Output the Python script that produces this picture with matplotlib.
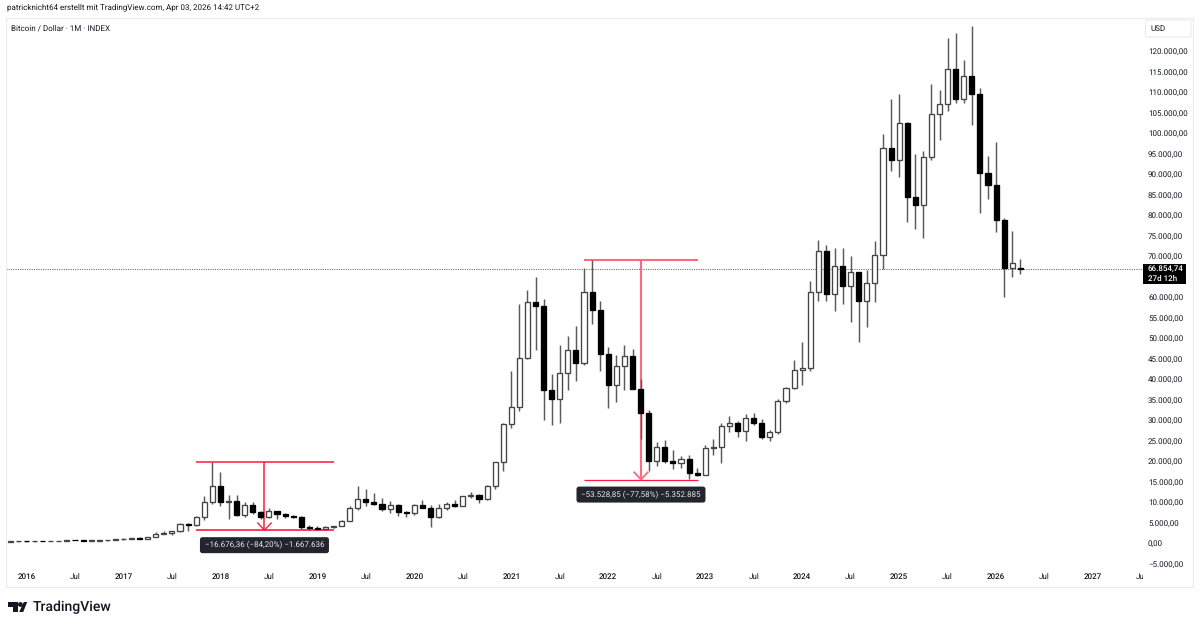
import matplotlib
matplotlib.use("Agg")
import matplotlib.pyplot as plt
from matplotlib.patches import Rectangle, FancyBboxPatch, Polygon, Circle
from matplotlib.transforms import Bbox, IdentityTransform

plt.rcParams['font.family'] = ['Roboto', 'DejaVu Sans']
plt.rcParams['text.hinting'] = 'no_hinting'
plt.rcParams['text.hinting_factor'] = 1

# Monthly candles, Nov 2015 to Apr 2026: first month index is -2 (Jan 2016 = 0)
first_month = -2
opens = [320, 378, 430, 370, 437, 416, 448, 530, 673, 624, 575, 609, 700, 745,
         963, 970, 1190, 1080, 1350, 2300, 2480, 2870, 4700, 4340, 6450, 9900,
         14000, 10100, 10300, 6900, 9240, 7480, 6390, 7730, 7010, 6620, 6300, 4000,
         3700, 3430, 3800, 4100, 5300, 8550, 10800, 10100, 9600, 8300, 9150, 7550,
         7200, 9350, 8550, 6420, 8630, 9450, 9140, 11350, 11650, 10780, 13800, 19700,
         29000, 33100, 45200, 58800, 57700, 37300, 35050, 41500, 47100, 43800, 61300, 56900,
         46200, 38500, 43200, 45500, 37650, 31800, 19950, 23300, 20000, 19400, 20500, 17150,
         16550, 23130, 23500, 28470, 29250, 27200, 30480, 29230, 25940, 26970, 34660, 37720,
         42270, 42580, 61150, 71300, 60650, 67500, 62700, 66000, 58950, 63300, 70300, 96400,
         93400, 102400, 84300, 82500, 94200, 104600, 107100, 115700, 108300, 114000, 109500, 90300,
         87300, 78700, 67000, 66950]
highs = [380, 465, 435, 440, 445, 470, 460, 780, 770, 680, 620, 660, 730, 780,
         1150, 1230, 1350, 1400, 2760, 2980, 2900, 4980, 4980, 6470, 11500, 19700,
         17200, 11800, 11700, 9900, 10000, 7760, 8490, 7500, 7400, 6750, 6500, 4400,
         4070, 4200, 4100, 5600, 9050, 13800, 13200, 12300, 10900, 10350, 9500, 7750,
         9600, 10500, 9200, 9450, 10080, 10400, 11450, 12480, 12070, 14100, 19850, 29300,
         41950, 58350, 61800, 64900, 59600, 41300, 48200, 50500, 52900, 67000, 69000, 59100,
         47900, 45800, 48200, 47400, 40000, 32400, 24700, 25200, 22800, 21100, 21500, 18400,
         23900, 25250, 29200, 31000, 29800, 31400, 31800, 30200, 27500, 35200, 38000, 44700,
         48950, 64000, 73800, 72700, 71900, 71900, 70000, 65600, 66500, 73600, 99800, 108300,
         109500, 102700, 95000, 95700, 111900, 110500, 123100, 124400, 117900, 126200, 111000, 94400,
         97900, 79300, 76000, 69200]
lows = [310, 350, 350, 360, 425, 400, 445, 525, 630, 480, 560, 590, 600, 720,
        750, 930, 890, 1300, 1800, 2100, 1830, 2650, 2970, 4100, 5500, 9500,
        9000, 5900, 6500, 6400, 7000, 5750, 6060, 5900, 6100, 6200, 3500, 3100,
        3350, 3400, 3600, 4100, 5350, 8000, 9100, 9300, 7700, 7300, 6500, 6400,
        6850, 8450, 3850, 6150, 8100, 8900, 8950, 11000, 9850, 10400, 13200, 17600,
        28100, 32300, 44950, 47000, 30000, 28800, 29300, 37300, 39600, 43300, 53300, 41900,
        32900, 34300, 37200, 37600, 25400, 17600, 18800, 19600, 18100, 18200, 15500, 16300,
        16500, 21400, 19600, 27000, 25800, 24800, 28900, 25300, 24900, 26600, 34100, 37600,
        38500, 41900, 59100, 59100, 56500, 58400, 53900, 49000, 52600, 58900, 66800, 90700,
        89200, 78200, 76600, 74500, 93400, 98200, 105300, 107300, 107300, 102000, 80600, 84000,
        75800, 60000, 64800, 65700]
closes = [378, 430, 370, 437, 416, 448, 530, 673, 624, 575, 609, 700, 745, 963,
          970, 1190, 1080, 1350, 2300, 2480, 2870, 4700, 4340, 6450, 9900, 14000,
          10100, 10300, 6900, 9240, 7480, 6390, 7730, 7010, 6620, 6300, 4000, 3700,
          3430, 3800, 4100, 5300, 8550, 10800, 10100, 9600, 8300, 9150, 7550, 7200,
          9350, 8550, 6420, 8630, 9450, 9140, 11350, 11650, 10780, 13800, 19700, 29000,
          33100, 45200, 58800, 57700, 37300, 35050, 41500, 47100, 43800, 61300, 56900, 46200,
          38500, 43200, 45500, 37650, 31800, 19950, 23300, 20000, 19400, 20500, 17150, 16550,
          23130, 23500, 28470, 29250, 27200, 30480, 29230, 25940, 26970, 34660, 37720, 42270,
          42580, 61150, 71300, 60650, 67500, 62700, 66000, 58950, 63300, 70300, 96400, 93400,
          102400, 84300, 82500, 94200, 104600, 107100, 115700, 108300, 114000, 109500, 90300, 87300,
          78700, 67000, 68300, 66854.74]
assert len(opens) == len(highs) == len(lows) == len(closes)

# Price axis
price_ticks = [-5000, 0, 5000, 10000, 15000, 20000, 25000, 30000, 35000, 40000, 45000,
               50000, 55000, 60000, 70000, 75000, 80000, 85000, 90000, 95000,
               100000, 105000, 110000, 115000, 120000]

# Time axis
time_ticks = [0, 6, 12, 18, 24, 30, 36, 42, 48, 54, 60, 66, 72, 78, 84, 90, 96, 102,
              108, 114, 120, 126, 132, 138]
time_labels = ['2016', 'Jul', '2017', 'Jul', '2018', 'Jul', '2019', 'Jul', '2020', 'Jul',
               '2021', 'Jul', '2022', 'Jul', '2023', 'Jul', '2024', 'Jul', '2025', 'Jul',
               '2026', 'Jul', '2027', 'Jul']

# Drawdown measurements
caption_a = '\u221216.676,36 (\u221284,20%) \u22121.667.636'
caption_b = '\u221253.528,85 (\u221277,58%) \u22125.352.885'
top_a, bottom_a = 19805, 3129
top_b, bottom_b = 68998, 15469
span_a = (21.0, 38.05, 29.45)
span_b = (69.0, 83.1, 76.05)

last_price = 66854.74
W, H = 1200, 627
RED = '#ff1a40'
PINK = '#fb6b7f'
INK = '#131722'

fig = plt.figure(figsize=(W / 100, H / 100), dpi=100, facecolor='white')

# The plot area spans x 6..1143 and y 18..568 measured from the top-left
L, R, T, B = 6, 1143, 18, 568
ax = fig.add_axes([L / W, 1 - B / H, (R - L) / W, (B - T) / H])
px_per_month = 8.08
x0 = 26.5
ax.set_xlim((L - x0) / px_per_month, (R - x0) / px_per_month)
px_per_usd = 4.1 / 1000
y0 = 543
ax.set_ylim((y0 - B) / px_per_usd, (y0 - T) / px_per_usd)
for s in ax.spines.values():
    s.set_visible(False)

# Candles
body_w = 0.63
for i, (o, h, l, c) in enumerate(zip(opens, highs, lows, closes)):
    x = first_month + i
    up = c >= o
    ax.plot([x, x], [l, h], color='#5a5a5a', lw=1.05, solid_capstyle='butt', zorder=2)
    lo, hi = min(o, c), max(o, c)
    ax.add_patch(Rectangle((x - body_w / 2, lo), body_w, max(hi - lo, 120),
                           facecolor='white' if up else 'black',
                           edgecolor='#444444' if up else 'black', lw=0.95, zorder=3))

# Last-price line
ax.axhline(last_price, color='#666666', lw=0.75, ls=(0, (1, 1.2)), zorder=1)

# Drawdown brackets sit under the candles
def bracket(span, top, bottom, caption, top_color, top_lw, stem_color, stem_lw, bottom_lw):
    x_a, x_b, x_m = span
    ax.plot([x_a, x_b], [top, top], color=top_color, lw=top_lw, zorder=1.5, solid_capstyle='butt')
    ax.plot([x_a, x_b], [bottom, bottom], color=RED, lw=bottom_lw, zorder=1.5, solid_capstyle='butt')
    ax.plot([x_m, x_m], [top, bottom], color=stem_color, lw=stem_lw, zorder=1.5, solid_capstyle='butt')
    ax.plot([x_m - 0.83, x_m, x_m + 0.83], [bottom + 1750, bottom, bottom + 1750],
            color=stem_color, lw=stem_lw * 0.9, zorder=1.5)
    # Caption pill sits a fixed pixel distance below the bracket
    cx, cy = ax.transData.transform((x_m, bottom))
    cy -= 15
    ax.add_patch(FancyBboxPatch((cx - 62.5, cy - 6), 125, 12, transform=IdentityTransform(),
                                boxstyle='round,pad=2,rounding_size=2.5', fc='#22252e', ec='none',
                                zorder=6, clip_on=False))
    ax.text(cx, cy, caption, transform=IdentityTransform(), ha='center', va='center',
            color='#e6e7ea', fontsize=5.9, zorder=7, clip_on=False)

bracket(span_a, top_a, bottom_a, caption_a, RED, 1.1, RED, 1.1, 1.2)
bracket(span_b, top_b, bottom_b, caption_b, PINK, 1.5, PINK, 1.5, 0.9)

# Axis ticks and labels
def de_number(p):
    return f'{p:,.2f}'.replace(',', 'X').replace('.', ',').replace('X', '.').replace('-', '\u2212')

ax.yaxis.tick_right()
ax.set_yticks(price_ticks)
ax.set_yticklabels([de_number(p) for p in price_ticks], fontsize=5.9, color=INK)
ax.tick_params(axis='y', length=0, pad=3.6)
ax.set_xticks(time_ticks)
ax.set_xticklabels(time_labels, fontsize=5.9, color=INK)
ax.tick_params(axis='x', length=0, pad=3.8)
clip = Bbox([[L, 0], [R, H]])
for lab, txt in zip(ax.get_xticklabels(), time_labels):
    lab.set_clip_box(clip)
    lab.set_clip_on(True)
    if txt != 'Jul':
        lab.set_fontweight('medium')

# Outer frame, header and legend text
fig.add_artist(Rectangle((6 / W, 1 - 587 / H), (1193 - 6) / W, (587 - 18) / H, transform=fig.transFigure,
                         fill=False, ec='#ececec', lw=0.8))
fig.text(7 / W, 1 - 7.5 / H, 'patricknicht64 erstellt mit TradingView.com, Apr 03, 2026 14:42 UTC+2',
         fontsize=5.9, color=INK, ha='left', va='center')
fig.text(11 / W, 1 - 28 / H, 'Bitcoin / Dollar \u00b7 1M \u00b7 INDEX',
         fontsize=5.95, color=INK, ha='left', va='center')

# Currency button
fig.add_artist(FancyBboxPatch((1145.5, H - 37), 45.5, 17, transform=IdentityTransform(),
                              boxstyle='round,pad=0,rounding_size=2', fc='white', ec='#ececec', lw=0.8))
fig.text(1150 / W, 1 - 29 / H, 'USD', fontsize=5.7, color=INK, ha='left', va='center')

# Last-price tag
fig.add_artist(Rectangle((1143 / W, 1 - 284 / H), 43 / W, 20 / H, transform=fig.transFigure, fc='black', ec='none'))
fig.text(1147.5 / W, 1 - 269.3 / H, '66.854,74', fontsize=5.9, color='white', ha='left', va='center',
         fontweight='medium')
fig.text(1147.5 / W, 1 - 278.8 / H, '27d 12h', fontsize=5.9, color='white', ha='left', va='center',
         fontweight='medium')

# Wordmark with its glyph
logo_color = '#131722'
def P(pts):
    return [(x / W, 1 - y / H) for x, y in pts]
fig.add_artist(Polygon(P([(8, 602), (18.3, 602), (18.3, 612), (13.2, 612), (13.2, 607), (8, 607)]),
                       transform=fig.transFigure, fc=logo_color, ec='none'))
fig.add_artist(Circle((20.4, H - 604.5), 2.4, transform=IdentityTransform(), fc=logo_color, ec='none'))
fig.add_artist(Polygon(P([(23.8, 602), (27.2, 602), (23.2, 612), (19.2, 612)]),
                       transform=fig.transFigure, fc=logo_color, ec='none'))
fig.text(32.3 / W, 1 - 607 / H, 'TradingView', fontsize=10.2, color=logo_color, fontweight='medium',
         ha='left', va='center')

fig.savefig('out.png', dpi=100, facecolor='white')
